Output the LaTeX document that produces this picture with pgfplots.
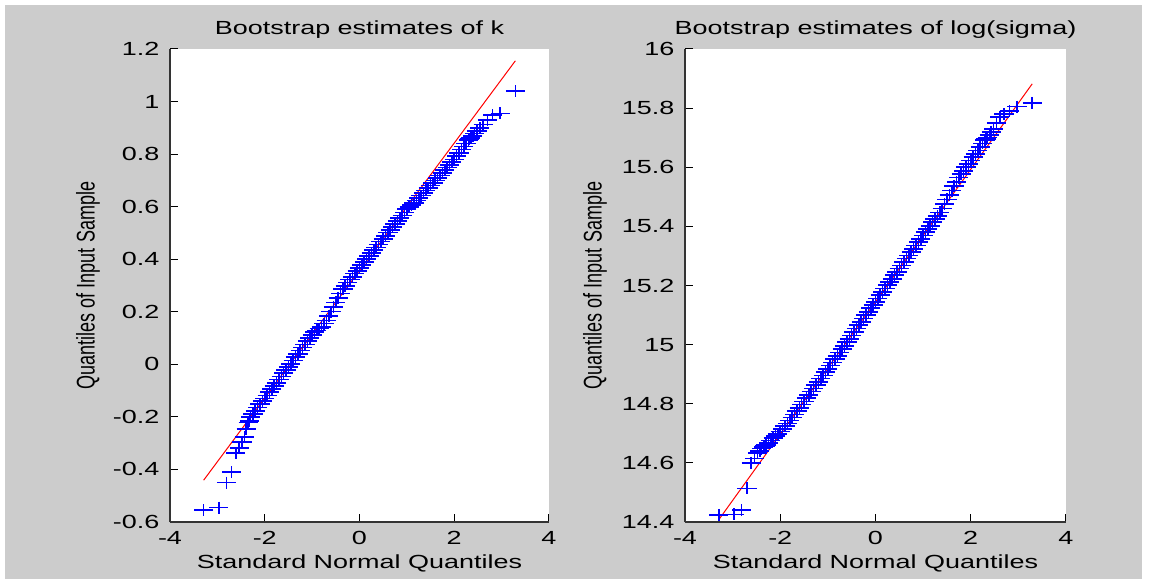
\documentclass[border=0pt]{standalone}
\usepackage{pgfplots}
\pgfplotsset{compat=1.18}
\usepackage{fontspec}
\setmainfont{Liberation Sans}[FakeStretch=1.42]
\newfontfamily\plainfont{Liberation Sans}
\definecolor{figbg}{gray}{0.8}
\pgfplotsset{qq/.style={
  anchor=south west, scale only axis, height=236.5pt,
  axis lines=left, axis line style={-, black!80, line width=0.6pt},
  axis background/.style={fill=white},
  tick align=inside, major tick length=4pt, tick style={black, line width=0.5pt},
  xmin=-4, xmax=4, xtick={-4,-2,0,2,4}, xticklabels={-4,-2,0,2,4},
  /pgf/number format/assume math mode=true,
  tick label style={font=\fontsize{9.5}{11}\selectfont},
  xticklabel style={anchor=base, yshift=-11pt},
  yticklabel style={anchor=east, xshift=-1.8pt},
  title style={at={(axis description cs:0.5,1)}, anchor=base, yshift=1pt, font=\fontsize{9.5}{11}\selectfont},
  xlabel style={at={(axis description cs:0.5,0)}, anchor=base, yshift=-23pt, font=\fontsize{9.5}{11}\selectfont},
  xlabel={Standard Normal Quantiles},
  ylabel={\scalebox{1}[1.42]{\plainfont\fontsize{9}{10}\selectfont Quantiles of Input Sample}},
  clip=false,
},
dots/.style={only marks, mark=+, color=blue, mark size=3pt, mark options={xscale=1.6, line width=0.8pt}},
fit/.style={red, line width=0.5pt}}
\begin{document}
\begin{tikzpicture}[x=1pt,y=1pt]
\fill[white] (0,0) rectangle (583,289.5);
\fill[figbg] (2.5,0) rectangle (571,287);
\begin{axis}[qq, at={(85pt,28.5pt)}, width=189.5pt,
  ymin=-0.6, ymax=1.2,
  ytick={-0.6,-0.4,-0.2,0,0.2,0.4,0.6,0.8,1,1.2},
  yticklabels={-0.6,-0.4,-0.2,0,0.2,0.4,0.6,0.8,1,1.2},
  title={Bootstrap estimates of k},
  ylabel style={at={(axis description cs:-0.216,0.5)}, anchor=center}]
\addplot[fit] coordinates {(-3.29,-0.441) (3.29,1.155)};
\addplot[dots] coordinates {
(-3.29,-0.555) (-2.97,-0.545) (-2.81,-0.450) (-2.70,-0.410) (-2.61,-0.337) (-2.54,-0.318)
(-2.48,-0.296) (-2.43,-0.277) (-2.39,-0.245) (-2.35,-0.222) (-2.32,-0.215)
(-2.30,-0.201) (-2.25,-0.189) (-2.20,-0.177) (-2.15,-0.165) (-2.10,-0.152) (-2.05,-0.140)
(-2.00,-0.130) (-1.95,-0.118) (-1.90,-0.106) (-1.85,-0.095) (-1.80,-0.083) (-1.75,-0.070)
(-1.70,-0.058) (-1.65,-0.046) (-1.60,-0.034) (-1.55,-0.022) (-1.50,-0.010) (-1.45,0.002)
(-1.40,0.014) (-1.35,0.027) (-1.30,0.040) (-1.25,0.052) (-1.20,0.064) (-1.15,0.076)
(-1.10,0.088) (-1.05,0.100) (-1.00,0.112) (-0.95,0.122) (-0.90,0.129) (-0.85,0.136)
(-0.80,0.143) (-0.75,0.155) (-0.70,0.167) (-0.65,0.184) (-0.60,0.201) (-0.55,0.219)
(-0.50,0.236) (-0.45,0.253) (-0.40,0.270) (-0.35,0.287) (-0.30,0.299) (-0.25,0.311)
(-0.20,0.323) (-0.15,0.333) (-0.10,0.345) (-0.05,0.355) (0.00,0.367) (0.05,0.378)
(0.10,0.389) (0.15,0.400) (0.20,0.412) (0.25,0.423) (0.30,0.434) (0.35,0.445)
(0.40,0.456) (0.45,0.467) (0.50,0.478) (0.55,0.489) (0.60,0.501) (0.65,0.512)
(0.70,0.523) (0.75,0.534) (0.80,0.545) (0.85,0.556) (0.90,0.567) (0.95,0.578)
(1.00,0.590) (1.05,0.598) (1.10,0.607) (1.15,0.615) (1.20,0.623) (1.25,0.632)
(1.30,0.642) (1.35,0.652) (1.40,0.662) (1.45,0.671) (1.50,0.681) (1.55,0.690)
(1.60,0.700) (1.65,0.709) (1.70,0.719) (1.75,0.729) (1.80,0.739) (1.85,0.749)
(1.90,0.759) (1.95,0.769) (2.00,0.780) (2.05,0.792) (2.10,0.804) (2.15,0.817)
(2.20,0.829) (2.25,0.841) (2.30,0.853) (2.32,0.857) (2.35,0.862) (2.39,0.870)
(2.43,0.879) (2.48,0.888) (2.54,0.899) (2.61,0.912) (2.70,0.930) (2.81,0.948)
(2.97,0.955) (3.29,1.040)
};
\end{axis}
\begin{axis}[qq, at={(342.5pt,28.5pt)}, width=190.5pt,
  ymin=14.4, ymax=16,
  ytick={14.4,14.6,14.8,15,15.2,15.4,15.6,15.8,16},
  yticklabels={14.4,14.6,14.8,15,15.2,15.4,15.6,15.8,16},
  title={Bootstrap estimates of log(sigma)},
  ylabel style={at={(axis description cs:-0.236,0.5)}, anchor=center}]
\addplot[fit] coordinates {(-3.29,14.408) (3.29,15.882)};
\addplot[dots] coordinates {
(-3.29,14.424) (-2.97,14.426) (-2.81,14.440) (-2.70,14.514) (-2.61,14.600) (-2.54,14.615)
(-2.48,14.633) (-2.43,14.640) (-2.39,14.648) (-2.35,14.654) (-2.32,14.657)
(-2.30,14.660) (-2.25,14.668) (-2.20,14.676) (-2.15,14.684) (-2.10,14.691) (-2.05,14.698)
(-2.00,14.706) (-1.95,14.714) (-1.90,14.724) (-1.85,14.733) (-1.80,14.743) (-1.75,14.753)
(-1.70,14.764) (-1.65,14.775) (-1.60,14.786) (-1.55,14.797) (-1.50,14.808) (-1.45,14.819)
(-1.40,14.830) (-1.35,14.841) (-1.30,14.852) (-1.25,14.863) (-1.20,14.874) (-1.15,14.885)
(-1.10,14.896) (-1.05,14.907) (-1.00,14.918) (-0.95,14.929) (-0.90,14.940) (-0.85,14.951)
(-0.80,14.962) (-0.75,14.973) (-0.70,14.985) (-0.65,14.996) (-0.60,15.008) (-0.55,15.019)
(-0.50,15.031) (-0.45,15.042) (-0.40,15.054) (-0.35,15.066) (-0.30,15.077) (-0.25,15.089)
(-0.20,15.100) (-0.15,15.111) (-0.10,15.123) (-0.05,15.134) (0.00,15.145) (0.05,15.156)
(0.10,15.167) (0.15,15.179) (0.20,15.190) (0.25,15.201) (0.30,15.212) (0.35,15.223)
(0.40,15.235) (0.45,15.246) (0.50,15.257) (0.55,15.268) (0.60,15.279) (0.65,15.291)
(0.70,15.302) (0.75,15.313) (0.80,15.324) (0.85,15.335) (0.90,15.347) (0.95,15.358)
(1.00,15.369) (1.05,15.380) (1.10,15.391) (1.15,15.402) (1.20,15.414) (1.25,15.425)
(1.30,15.436) (1.35,15.447) (1.40,15.460) (1.45,15.475) (1.50,15.491) (1.55,15.506)
(1.60,15.521) (1.65,15.536) (1.70,15.551) (1.75,15.565) (1.80,15.577) (1.85,15.588)
(1.90,15.600) (1.95,15.611) (2.00,15.623) (2.05,15.634) (2.10,15.645) (2.15,15.657)
(2.20,15.669) (2.25,15.681) (2.30,15.692) (2.32,15.695) (2.35,15.700) (2.39,15.710)
(2.43,15.720) (2.48,15.730) (2.54,15.750) (2.61,15.770) (2.70,15.780) (2.81,15.790)
(2.97,15.805) (3.29,15.818)
};
\end{axis}
\end{tikzpicture}
\end{document}
